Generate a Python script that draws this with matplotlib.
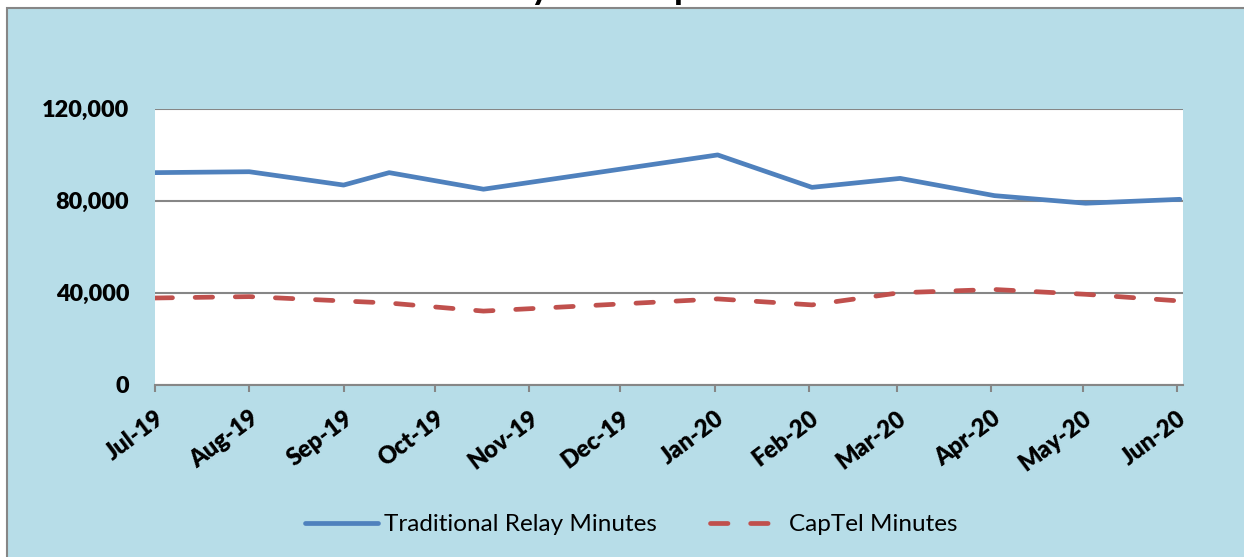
import matplotlib
matplotlib.use("Agg")
import matplotlib.pyplot as plt
from matplotlib.patches import Rectangle
from matplotlib.ticker import FuncFormatter, MultipleLocator
import pandas as pd

# ---- data ----
dates = ["2019-07-01", "2019-08-01", "2019-09-01", "2019-09-16", "2019-10-17",
         "2020-01-02", "2020-02-02", "2020-03-02", "2020-04-02", "2020-05-02", "2020-06-02"]
traditional_relay = [92200, 92600, 86800, 92200, 85000, 99900, 85800, 89700, 82200, 78900, 80600]
captel = [37700, 38300, 36400, 35500, 32000, 37300, 34700, 40000, 41400, 39300, 36400]
tick_months = ["2019-07-01", "2019-08-01", "2019-09-01", "2019-10-01", "2019-11-01", "2019-12-01",
               "2020-01-01", "2020-02-01", "2020-03-01", "2020-04-01", "2020-05-01", "2020-06-01"]
tick_labels = ["Jul-19", "Aug-19", "Sep-19", "Oct-19", "Nov-19", "Dec-19",
               "Jan-20", "Feb-20", "Mar-20", "Apr-20", "May-20", "Jun-20"]
title = "Traditional Relay and CapTel Minutes of Use"
series_names = ["Traditional Relay Minutes", "CapTel Minutes"]

W, H = 1244, 557
fig = plt.figure(figsize=(W / 100, H / 100), dpi=100, facecolor="white")

# chart area background
bg = Rectangle((7 / W, -0.1), 1.2, (H - 7.5) / H + 0.1, transform=fig.transFigure,
               facecolor="#B7DDE8", edgecolor="#868686", linewidth=1.5, zorder=-10)
fig.patches.append(bg)

ax = fig.add_axes([155 / W, 1 - 384.7 / H, (1183 - 155) / W, (384.7 - 108.7) / H])
ax.set_zorder(1)
ax.set_facecolor("white")

x = pd.to_datetime(dates)
ax.plot(x, traditional_relay, color="#4F81BD", linewidth=3.4, solid_capstyle="round",
        solid_joinstyle="round", label=series_names[0], zorder=3)
ax.plot(x, captel, color="#C0504D", linewidth=3.4, linestyle=(0, (3.7, 4.8)),
        dash_capstyle="round", dash_joinstyle="round", label=series_names[1], zorder=3)

ax.set_ylim(0, 120000)
ax.yaxis.set_major_locator(MultipleLocator(40000))
ax.yaxis.set_major_formatter(FuncFormatter(lambda v, p: f"{int(v):,}"))
ax.grid(axis="y", color="#868686", linewidth=1.5)
ax.set_axisbelow(True)

ax.set_xlim(pd.Timestamp("2019-07-01"), pd.Timestamp("2020-06-03"))
ax.set_xticks(pd.to_datetime(tick_months))
ax.set_xticklabels(tick_labels)

for s in ["left", "right", "top"]:
    ax.spines[s].set_visible(False)
ax.spines["bottom"].set_color("#868686")
ax.spines["bottom"].set_linewidth(1.5)
ax.tick_params(axis="y", length=0, pad=18.5)
ax.tick_params(axis="x", length=5, width=1.5, color="#868686", direction="out", pad=11)

for lab in ax.get_yticklabels():
    lab.set_fontfamily("Lato")
    lab.set_fontweight("heavy")
    lab.set_fontsize(16.8)
for lab in ax.get_xticklabels():
    lab.set_fontfamily("Lato")
    lab.set_fontweight("heavy")
    lab.set_fontsize(17)
    lab.set_rotation(37)
    lab.set_ha("right")
    lab.set_va("top")
    lab.set_rotation_mode("anchor")

# title (mostly cut off at the top of the image, as in the reference)
fig.text(640 / W, 1 + 1.0 / H, title, ha="center", va="baseline", fontsize=27,
         fontweight="bold", fontfamily="Lato", color="black", zorder=3)

leg = fig.legend(loc="center", bbox_to_anchor=((300 + 962) / 2 / W, 1 - 524.5 / H), ncol=2,
                 frameon=False, prop={"family": "Lato", "size": 17.5},
                 handlelength=3.0, handletextpad=0.25, columnspacing=2.2)

fig.savefig("out.png", dpi=100, facecolor="white")
